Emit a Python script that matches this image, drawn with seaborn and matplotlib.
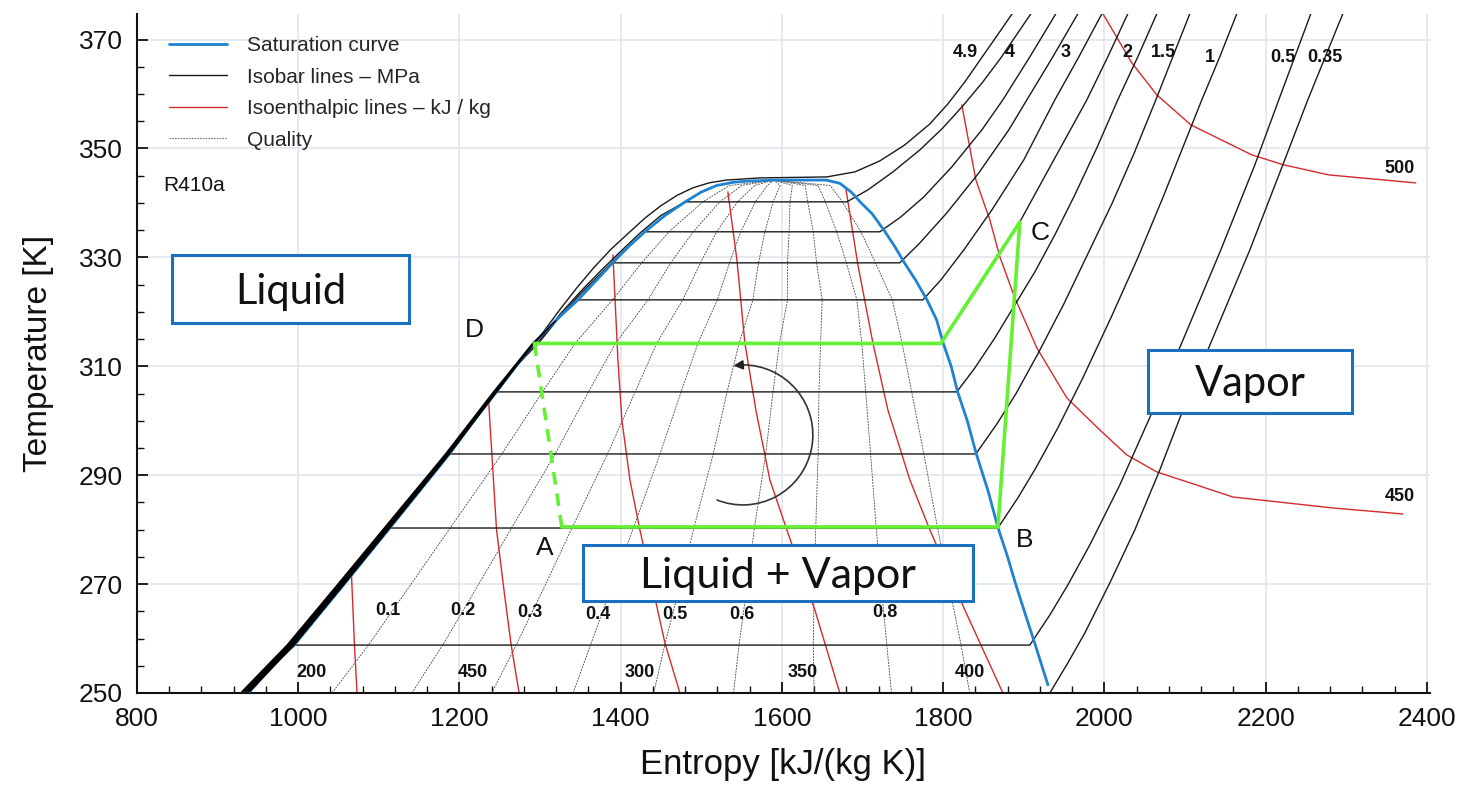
import numpy as np
import matplotlib.pyplot as plt
import seaborn as sns
from matplotlib.lines import Line2D
from matplotlib.patches import Rectangle, Arc
from matplotlib.ticker import MultipleLocator

sns.set_theme(style="white")
plt.rcParams["font.family"] = ["Liberation Sans", "DejaVu Sans"]
plt.rcParams["axes.unicode_minus"] = False

# ---------------------------------------
# Data
# ---------------------------------------
# saturation curve, liquid side then vapor side
LIQ_S = [940, 968, 996, 1057, 1114, 1150, 1188, 1218, 1246, 1270, 1293, 1320,
         1347, 1370, 1390, 1410, 1430, 1455, 1480, 1500, 1519, 1540, 1556, 1590]
LIQ_T = [250.3, 255, 259, 270, 280.4, 287, 294, 300, 305.3, 310, 314.3, 318.5,
         322.2, 325.8, 329, 332, 334.7, 337.7, 340.2, 342, 343.2, 343.8, 344.0, 344.2]
VAP_S = [1590, 1655, 1672, 1686, 1697, 1712, 1728, 1740, 1752, 1766, 1780, 1792,
         1800, 1810, 1818, 1830, 1841, 1856, 1868, 1880, 1890, 1903, 1914, 1930]
VAP_T = [344.2, 344.2, 343.6, 342, 340.2, 338, 334.7, 332, 329, 325.8, 322.2, 318.5,
         314.3, 310, 305.3, 300, 294, 287, 280.4, 275, 270, 264, 259, 251.5]

# compressed-liquid band (left edge) along the saturated liquid line
BAND_T = [250.3, 259, 270, 280.4, 294, 305.3, 314.3, 318.5]
BAND_S_LEFT = [928, 985, 1047, 1105, 1181, 1240, 1289, 1318]
BAND_S_RIGHT = [940, 996, 1057, 1114, 1188, 1246, 1293, 1320]

# isobars (MPa): saturation temperature, liquid start, superheated branch
P05_TSAT, P05_START = 258.8, 996
P05_S = [1907.6, 1932.4, 1954.7, 1982.0, 2019.2, 2058.9, 2092.4, 2144.5, 2186.7, 2216.4, 2256.1]
P05_T = [258.8, 264.33, 269.84, 277.19, 288.21, 301.43, 313.01, 331.37, 346.99, 358.93, 374.73]
P10_TSAT, P10_START = 280.3, 1114
P10_S = [1867.9, 1892.7, 1915.0, 1942.3, 1973.3, 2008.1, 2041.5, 2072.5, 2120.9, 2143.2, 2164.3]
P10_T = [280.3, 285.82, 291.33, 298.68, 307.86, 318.88, 329.91, 340.93, 358.93, 366.83, 374.73]
P15_TSAT, P15_START = 293.9, 1188
P15_S = [1840.6, 1866.7, 1890.2, 1917.5, 1949.8, 1979.5, 2009.3, 2036.6, 2063.9, 2084.9, 2106.0]
P15_T = [293.9, 299.41, 304.92, 312.27, 321.46, 330.64, 339.82, 349.01, 358.93, 366.83, 374.73]
P20_TSAT, P20_START = 305.3, 1246
P20_S = [1817.0, 1839.4, 1864.2, 1889.0, 1913.8, 1938.6, 1963.4, 1990.7, 2016.7, 2041.5, 2065.1]
P20_T = [305.3, 309.70, 315.21, 321.27, 327.33, 334.13, 341.48, 350.11, 358.93, 366.83, 374.73]
P25_TSAT, P25_START = 314.2, 1293
P25_S = [1797.2, 1820.8, 1845.6, 1870.4, 1895.2, 1923.7, 1951.0, 1978.3, 2004.3, 2029.1]
P25_T = [314.2, 319.43, 324.95, 330.82, 336.52, 344.23, 351.58, 358.93, 366.83, 374.73]
P30_TSAT, P30_START = 322.2, 1347
P30_S = [1774.9, 1797.2, 1825.7, 1860.5, 1900.1, 1938.6, 1968.4, 1996.9]
P30_T = [322.2, 325.86, 331.37, 338.72, 347.91, 358.93, 366.83, 374.73]
P35_TSAT, P35_START = 329.0, 1390
P35_S = [1746.3, 1771.2, 1804.6, 1844.3, 1881.5, 1903.9, 1936.1, 1967.1]
P35_T = [329.0, 332.66, 338.17, 345.52, 353.42, 358.93, 366.83, 374.73]
P40_LIQ_S = [1300, 1325, 1350, 1375, 1400, 1430]
P40_LIQ_T = [314.6, 319.2, 323.3, 327.0, 330.7, 334.7]
P40_S = [1721.5, 1747.6, 1776.1, 1810.8, 1848.1, 1874.1, 1907.6, 1939.8]
P40_T = [334.7, 337.44, 341.11, 346.62, 353.42, 358.93, 366.83, 374.73]
P45_LIQ_S = [1300, 1325, 1350, 1375, 1400, 1425, 1450, 1480]
P45_LIQ_T = [314.8, 319.6, 323.7, 327.5, 331.1, 334.6, 337.7, 340.2]
P45_S = [1680.6, 1706.7, 1737.7, 1771.2, 1799.7, 1824.5, 1849.3, 1871.6, 1890.2, 1908.8]
P45_T = [340.2, 342.40, 345.70, 349.74, 353.78, 357.83, 362.23, 366.64, 370.68, 374.73]
P49_LIQ_S = [1300, 1325, 1345, 1366, 1388, 1410, 1430, 1450, 1470, 1490, 1510, 1531, 1573, 1620]
P49_LIQ_T = [315.5, 320.5, 324.3, 328.0, 331.5, 334.5, 337.2, 339.5, 341.4, 342.8, 343.7, 344.2, 344.6, 344.7]
P49_S = [1655.8, 1690.5, 1721.5, 1752.5, 1783.6, 1805.9, 1827.0, 1846.8, 1866.7, 1886.5]
P49_T = [344.78, 345.70, 347.72, 350.66, 354.52, 358.19, 362.23, 366.46, 370.68, 374.91]
P035_S = [1932.4, 1954.7, 1975.8, 2006.8, 2037.8, 2068.8, 2096.1, 2128.4, 2180.5, 2221.4, 2252.4, 2295.8]
P035_T = [250.0, 255.51, 261.02, 270.21, 279.94, 290.96, 301.43, 313.01, 331.37, 346.99, 358.93, 374.73]

ISOBAR_LABELS = ["4.9", "4", "3", "2", "1.5", "1", "0.5", "0.35"]
ISOBAR_LABEL_S = [1827, 1883, 1952, 2028, 2073, 2131, 2221, 2273]
ISOBAR_LABEL_T = [367.6, 367.6, 367.6, 367.6, 367.6, 366.8, 366.8, 366.8]

# isenthalpic lines (kJ/kg)
H200_S = [1066, 1068, 1070, 1073]
H200_T = [272, 265, 258, 250]
H250_S = [1236, 1241, 1246, 1256, 1264, 1274]
H250_T = [304.1, 292, 280, 268, 259, 250]
H300_S = [1390.4, 1396.6, 1401.5, 1411.5, 1423.9, 1454.9, 1473.5]
H300_T = [330.45, 311.17, 300.15, 289.13, 279.94, 259.18, 250]
H350_S = [1533.0, 1544.2, 1554.1, 1567.7, 1585.1, 1606.2, 1640.9, 1671.9]
H350_T = [342.03, 329.54, 314.29, 301.98, 289.13, 279.94, 265.25, 250]
H400_S = [1679.4, 1694.3, 1712.9, 1731.5, 1758.8, 1783.6, 1827.0, 1874.1]
H400_T = [342.58, 328.62, 314.29, 301.98, 289.13, 279.94, 265.25, 250]
H450_S = [1823.2, 1840.6, 1858.0, 1870.4, 1889.0, 1916.3, 1953.5, 1994.4, 2027.9, 2065.1, 2159.4, 2283.4, 2370.2]
H450_T = [358.01, 344.23, 336.89, 330.09, 322.56, 313.37, 304.19, 298.31, 293.72, 290.60, 286.00, 283.98, 282.88]
H500_S = [1996.9, 2034.1, 2065.1, 2107.3, 2182.9, 2222.6, 2278.4, 2386.3]
H500_T = [375.09, 365.72, 359.85, 354.34, 348.83, 346.99, 345.15, 343.68]

H_LABELS_BOTTOM = ["200", "450", "300", "350", "400"]
H_LABEL_BOTTOM_S = [1017, 1217, 1424, 1626, 1833]
H_LABELS_RIGHT = ["500", "450"]
H_LABEL_RIGHT_S = [2366, 2366]
H_LABEL_RIGHT_T = [346.4, 286.0]

# quality lines, sampled at these temperatures
Q_T = [250, 259, 270, 280.4, 294, 305.3, 314.3, 322.2, 329, 334.7, 340.2, 343.2, 344.2]
Q01_S = [1042, 1088, 1140, 1189, 1253, 1303, 1344, 1390, 1426, 1460, 1502, 1535, 1590]
Q02_S = [1141, 1180, 1224, 1265, 1319, 1360, 1394, 1434, 1462, 1490, 1523, 1550, 1590]
Q03_S = [1240, 1271, 1307, 1340, 1384, 1418, 1445, 1477, 1499, 1519, 1545, 1566, 1590]
Q04_S = [1341, 1363, 1390, 1416, 1449, 1475, 1496, 1520, 1535, 1549, 1567, 1582, 1590]
Q05_S = [1441, 1455, 1474, 1491, 1515, 1532, 1547, 1564, 1571, 1579, 1589, 1598, 1590]
Q06_S = [1540, 1547, 1557, 1566, 1580, 1589, 1597, 1607, 1607, 1609, 1610, 1613, 1590]
Q07_S = [1640, 1639, 1640, 1642, 1645, 1646, 1648, 1650, 1643, 1639, 1632, 1629, 1590]
Q08_S = [1736, 1730, 1723, 1717, 1710, 1704, 1699, 1693, 1680, 1668, 1654, 1645, 1590]
Q09_S = [1833, 1822, 1807, 1793, 1776, 1761, 1749, 1737, 1716, 1698, 1675, 1660, 1590]

Q_LABELS = ["0.1", "0.2", "0.3", "0.4", "0.5", "0.6", "0.8"]
Q_LABEL_S = [1111, 1204, 1287, 1372, 1467, 1550, 1728]
Q_LABEL_T = [265.1, 265.1, 264.7, 264.5, 264.5, 264.5, 264.7]

# refrigeration cycle
CYCLE_S = [1327, 1868, 1895.2, 1797.2, 1293]
CYCLE_T = [280.5, 280.5, 336.5, 314.2, 314.2]
EXPANSION_S = [1293, 1327]
EXPANSION_T = [314.2, 280.5]
POINT_NAMES = ["A", "B", "C", "D"]
POINT_S = [1306, 1901, 1920, 1218]
POINT_T = [276.6, 278.1, 334.5, 316.7]

BLUE = "#1f82d2"
RED = "#d42a2a"
GREEN = "#66f033"
BOX_BLUE = "#1a70c0"


def draw(ax, s, t, **kw):
    sns.lineplot(x=np.asarray(s, dtype=float), y=np.asarray(t, dtype=float),
                 sort=False, estimator=None, legend=False, ax=ax, **kw)


def isobar_path(t_sat, s_start, sh_s, sh_t):
    ls, lt = np.array(LIQ_S), np.array(LIQ_T)
    keep = lt < t_sat - 0.5
    s = list(ls[keep]) + [s_start] + list(sh_s)
    t = list(lt[keep]) + [t_sat] + list(sh_t)
    return s, t


def high_isobar_path(liq_s, liq_t, sh_s, sh_t):
    ls, lt = np.array(LIQ_S), np.array(LIQ_T)
    keep = lt < liq_t[0] - 0.5
    s = list(ls[keep]) + list(liq_s) + list(sh_s)
    t = list(lt[keep]) + list(liq_t) + list(sh_t)
    return s, t


fig = plt.figure(figsize=(14.66, 7.86), dpi=100)
ax = fig.add_axes([137 / 1466, 93 / 786, 1293 / 1466, 679 / 786])
ax.set_facecolor("white")

# quality lines
for qs in [Q01_S, Q02_S, Q03_S, Q04_S, Q05_S, Q06_S, Q07_S, Q08_S, Q09_S]:
    draw(ax, qs, Q_T, color="#444444", linewidth=0.6,
         linestyle=(0, (2.2, 1.3)), zorder=1.5)

# isenthalps
for hs, ht in [(H200_S, H200_T), (H250_S, H250_T), (H300_S, H300_T), (H350_S, H350_T),
               (H400_S, H400_T), (H450_S, H450_T), (H500_S, H500_T)]:
    draw(ax, hs, ht, color=RED, linewidth=1.0, zorder=2)

# isobars
iso_paths = [
    isobar_path(P05_TSAT, P05_START, P05_S, P05_T),
    isobar_path(P10_TSAT, P10_START, P10_S, P10_T),
    isobar_path(P15_TSAT, P15_START, P15_S, P15_T),
    isobar_path(P20_TSAT, P20_START, P20_S, P20_T),
    isobar_path(P25_TSAT, P25_START, P25_S, P25_T),
    isobar_path(P30_TSAT, P30_START, P30_S, P30_T),
    isobar_path(P35_TSAT, P35_START, P35_S, P35_T),
    high_isobar_path(P40_LIQ_S, P40_LIQ_T, P40_S, P40_T),
    high_isobar_path(P45_LIQ_S, P45_LIQ_T, P45_S, P45_T),
    high_isobar_path(P49_LIQ_S, P49_LIQ_T, P49_S, P49_T),
    (P035_S, P035_T),
]
for s, t in iso_paths:
    draw(ax, s, t, color="#1a1a1a", linewidth=1.0, zorder=3)

# saturation curve and compressed-liquid band
draw(ax, LIQ_S + VAP_S[1:], LIQ_T + VAP_T[1:], color=BLUE, linewidth=2.0, zorder=3.2)
ax.fill_betweenx(BAND_T, BAND_S_LEFT, BAND_S_RIGHT, color="black", linewidth=0, zorder=3.5)

# cycle
draw(ax, CYCLE_S, CYCLE_T, color=GREEN, linewidth=2.6, zorder=5)
draw(ax, EXPANSION_S, EXPANSION_T, color=GREEN, linewidth=2.6,
     linestyle=(0, (3.5, 2.5)), zorder=5)
for name, ps, pt in zip(POINT_NAMES, POINT_S, POINT_T):
    ax.text(ps, pt, name, fontsize=19, ha="center", va="center", color="#111111", zorder=6)

# direction arrow
center_s, center_t = 1551.6, 297.4
rad_s, rad_t = 86.8, 12.86
ax.add_patch(Arc((center_s, center_t), 2 * rad_s, 2 * rad_t, theta1=200, theta2=452,
                 color="#333333", linewidth=1.2, zorder=4))
tip = (center_s + rad_s * np.cos(np.radians(100)), center_t + rad_t * np.sin(np.radians(100)))
tail = (center_s + rad_s * np.cos(np.radians(90)), center_t + rad_t * np.sin(np.radians(90)))
ax.annotate("", xy=tip, xytext=tail,
            arrowprops=dict(arrowstyle="-|>", color="#222222", lw=1.2, mutation_scale=14),
            zorder=4)

# labels
small = dict(fontsize=13, fontweight="bold", ha="center", va="center", color="#111111", zorder=4.5)
for lab, ls, lt in zip(ISOBAR_LABELS, ISOBAR_LABEL_S, ISOBAR_LABEL_T):
    ax.text(ls, lt, lab, **small)
for lab, ls in zip(H_LABELS_BOTTOM, H_LABEL_BOTTOM_S):
    ax.text(ls, 253.7, lab, **small)
for lab, ls, lt in zip(H_LABELS_RIGHT, H_LABEL_RIGHT_S, H_LABEL_RIGHT_T):
    ax.text(ls, lt, lab, **small)
for lab, ls, lt in zip(Q_LABELS, Q_LABEL_S, Q_LABEL_T):
    ax.text(ls, lt, lab, **small)
ax.text(0.02, 0.748, "R410a", transform=ax.transAxes, fontsize=15, va="center", color="#111111")

# region boxes
for (x0, y0, w, h), lab, fs in [((0.0271, 0.5449, 0.1833, 0.1002), "Liquid", 30),
                                ((0.7819, 0.4124, 0.1578, 0.0928), "Vapor", 30),
                                ((0.3449, 0.1355, 0.3017, 0.0825), "Liquid + Vapor", 31)]:
    ax.add_patch(Rectangle((x0, y0), w, h, transform=ax.transAxes, facecolor="white",
                           edgecolor=BOX_BLUE, linewidth=2.2, zorder=8))
    ax.text(x0 + w / 2, y0 + h / 2 - 0.004, lab, transform=ax.transAxes, fontsize=fs,
            family=["Lato", "DejaVu Sans"], ha="center", va="center", color="#111111", zorder=9)

# legend
handles = [
    Line2D([], [], color=BLUE, linewidth=2.0),
    Line2D([], [], color="#1a1a1a", linewidth=1.0),
    Line2D([], [], color=RED, linewidth=1.0),
    Line2D([], [], color="#777777", linewidth=0.8, linestyle=(0, (1.5, 1))),
]
labels = ["Saturation curve", "Isobar lines \u2013 MPa", "Isoenthalpic lines \u2013 kJ / kg", "Quality"]
ax.legend(handles, labels, loc="upper left", bbox_to_anchor=(0.01, 0.995), frameon=False,
          fontsize=15, handlelength=2.8, handletextpad=0.95, labelspacing=0.6)

# axes styling
ax.set_xlim(800, 2404)
ax.set_ylim(250, 374.7)
ax.xaxis.set_major_locator(MultipleLocator(200))
ax.xaxis.set_minor_locator(MultipleLocator(40))
ax.set_yticks(np.arange(250, 371, 20))
ax.yaxis.set_minor_locator(MultipleLocator(5))
ax.grid(True, which="major", color="#e3e7ef", linewidth=1.3, zorder=0)
ax.set_axisbelow(True)
ax.tick_params(which="both", direction="in", colors="#111111", labelsize=19,
               left=True, bottom=True, top=False, right=False)
ax.tick_params(which="major", length=8, width=1.3, pad=10)
ax.tick_params(which="minor", length=5, width=1.0)
for side in ["left", "bottom"]:
    ax.spines[side].set_color("#111111")
    ax.spines[side].set_linewidth(1.5)
for side in ["top", "right"]:
    ax.spines[side].set_visible(False)

ax.set_xlabel("Entropy [kJ/(kg K)]", fontsize=25, labelpad=12, color="#111111")
ax.set_ylabel("Temperature [K]", fontsize=24, labelpad=18, color="#111111")

fig.savefig("out.png", dpi=100)
plt.close(fig)
